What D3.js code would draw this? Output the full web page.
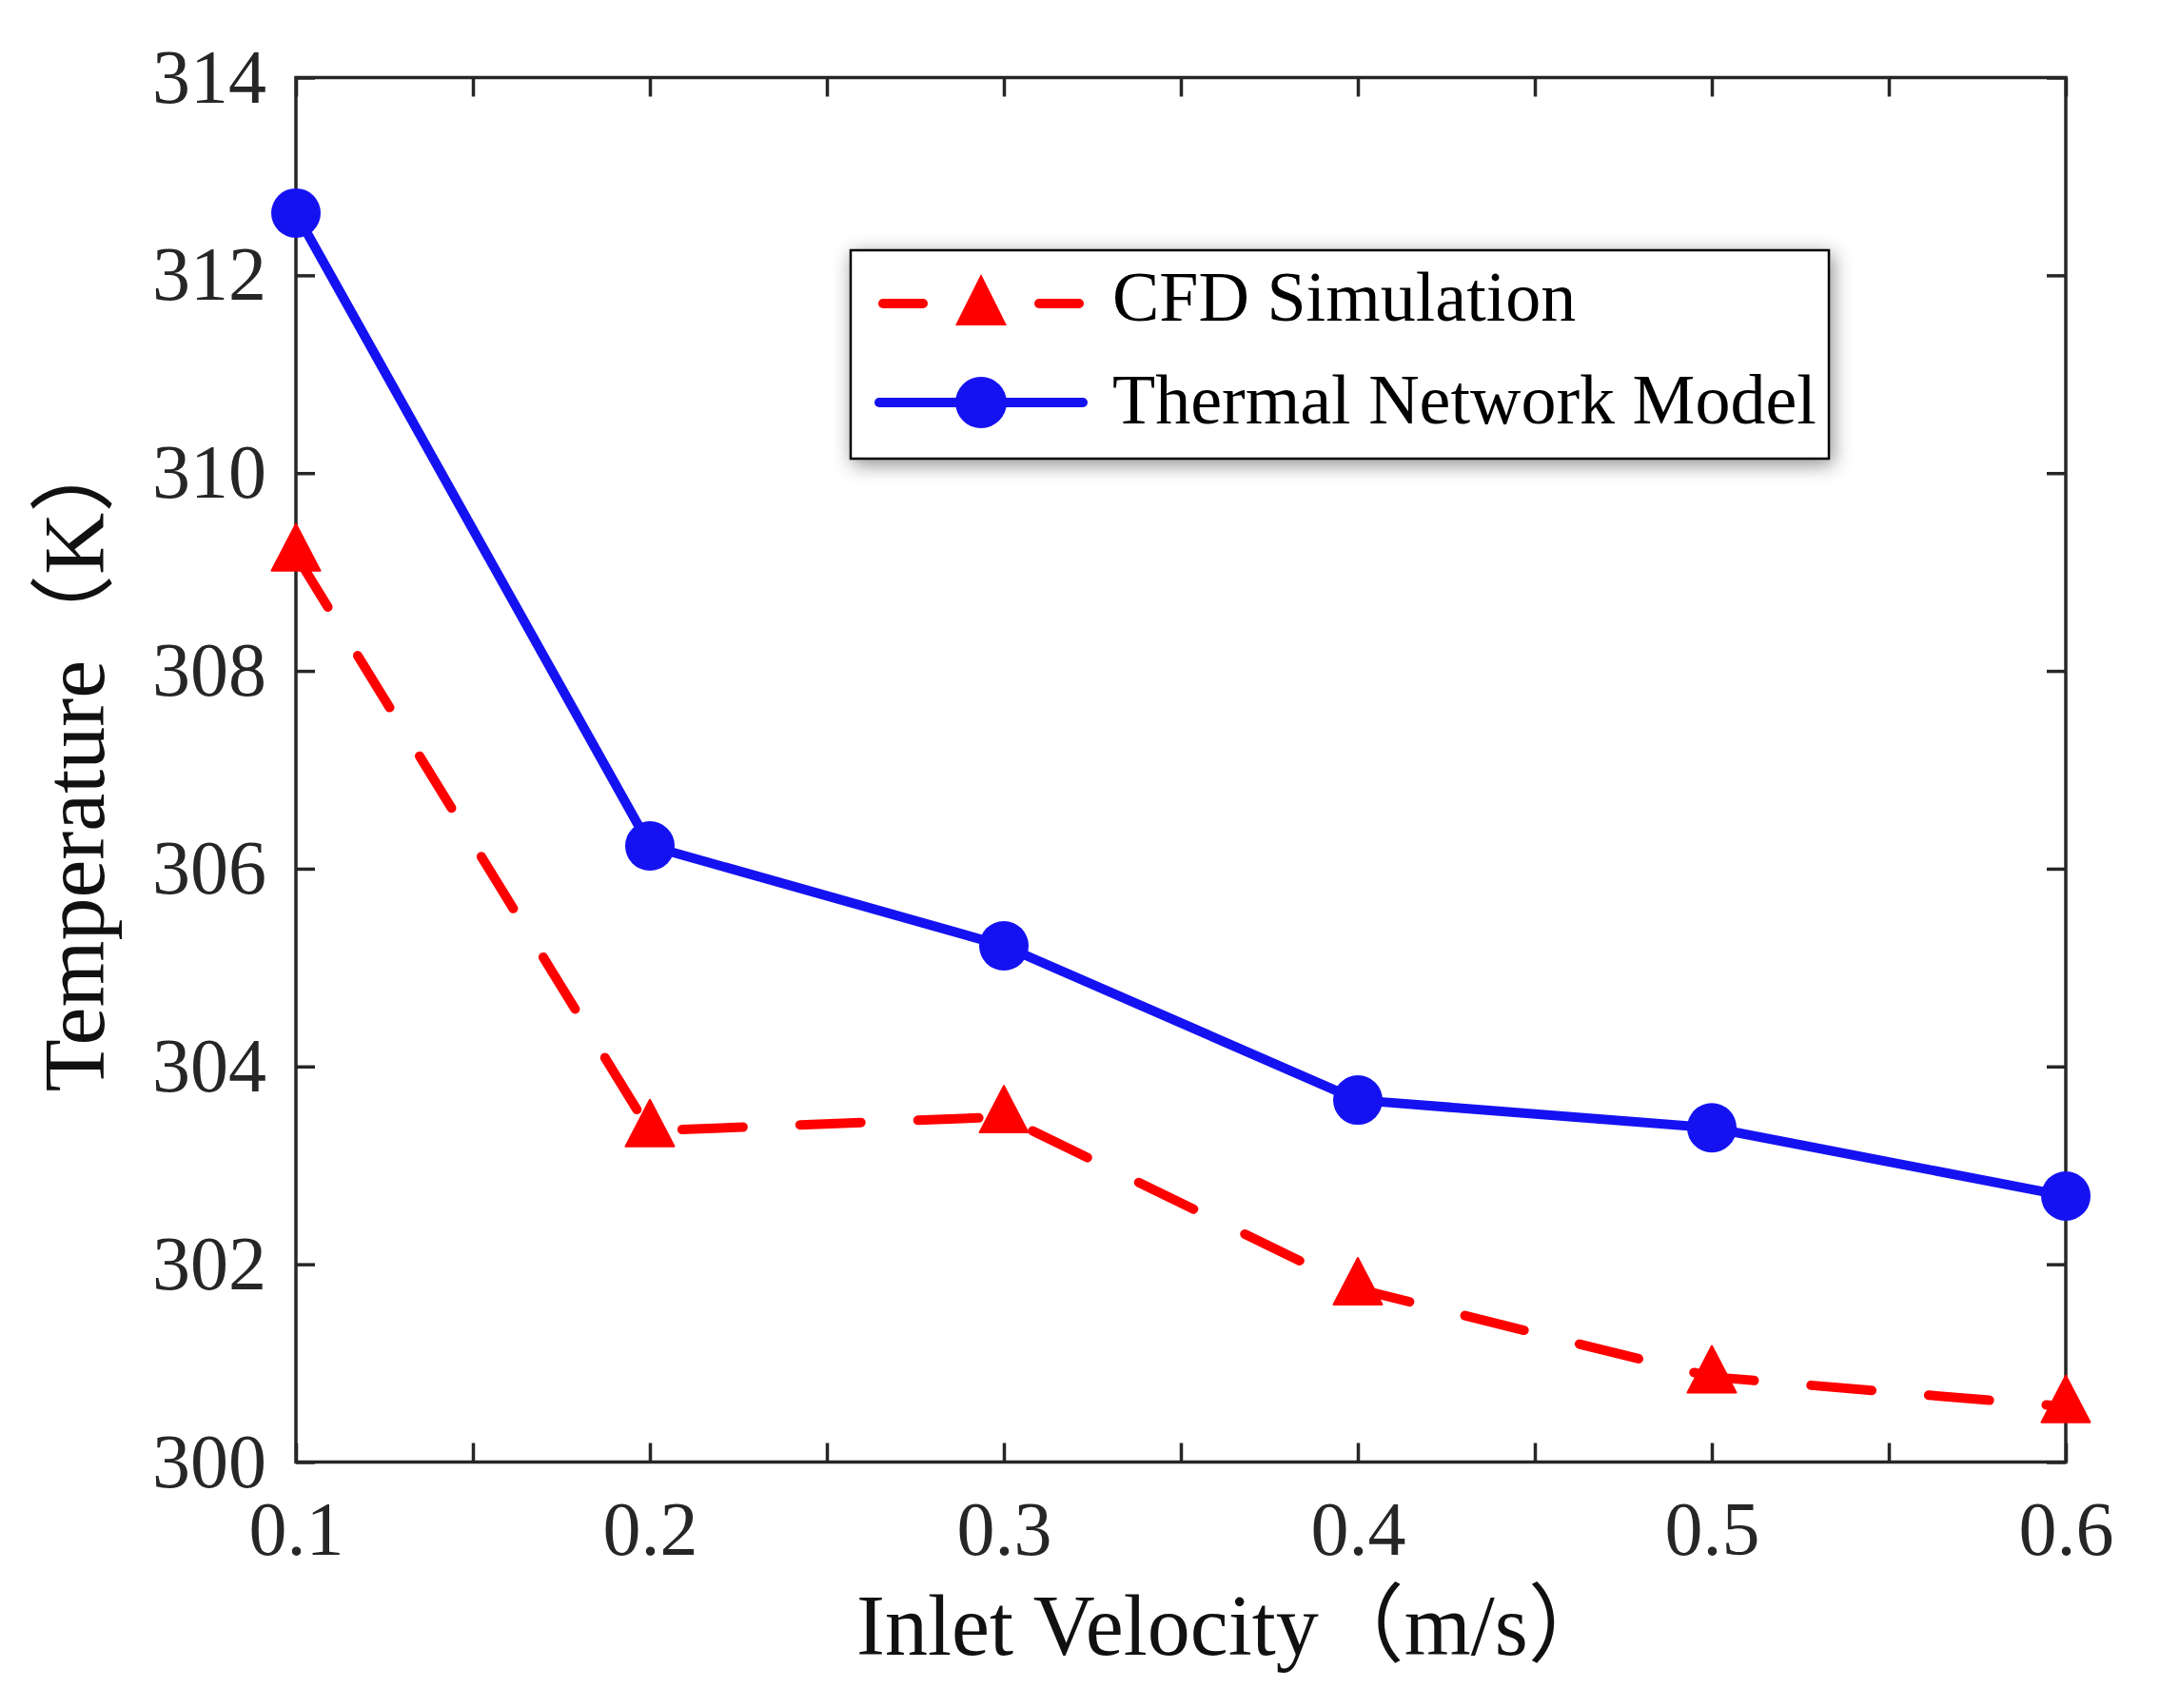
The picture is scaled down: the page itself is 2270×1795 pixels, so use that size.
<!DOCTYPE html>
<html>
<head>
<meta charset="utf-8">
<script src="https://cdn.jsdelivr.net/npm/d3@7"></script>
<style>body{margin:0;background:#fff;}</style>
</head>
<body>
<svg id="chart"></svg>
<script>
var velocity = [0.1, 0.2, 0.3, 0.4, 0.5, 0.6];
var cfdTemp = [309.17, 303.35, 303.49, 301.75, 300.86, 300.56];
var tnmTemp = [312.63, 306.23, 305.22, 303.66, 303.38, 302.69];
var xTicks = [0.1, 0.15, 0.2, 0.25, 0.3, 0.35, 0.4, 0.45, 0.5, 0.55, 0.6];
var xTickLabels = ['0.1', '', '0.2', '', '0.3', '', '0.4', '', '0.5', '', '0.6'];
var yTicks = [300, 302, 304, 306, 308, 310, 312, 314];
var seriesNames = ['CFD Simulation', 'Thermal Network Model'];

var W = 2270, H = 1795;
var L = 311, R = 2171, T = 81.5, B = 1536.5;
var font = "'Liberation Serif', 'Noto Sans CJK SC', serif";
var axisCol = '#262626';
var blue = '#1512f2', red = '#ff0000';

var svg = d3.select('#chart').attr('width', W).attr('height', H);

var defs = svg.append('defs');
var f = defs.append('filter').attr('id', 'shadow')
	.attr('x', '-10%').attr('y', '-30%').attr('width', '120%').attr('height', '160%');
f.append('feDropShadow').attr('dx', 3).attr('dy', 5).attr('stdDeviation', 10)
	.attr('flood-color', '#000').attr('flood-opacity', 0.45);

var x = d3.scaleLinear().domain([0.1, 0.6]).range([L, R]);
var y = d3.scaleLinear().domain([300, 314]).range([B, T]);

//axes, ticks point inward on all four sides
function styleAxis(g){
	g.select('.domain').remove();
	g.selectAll('.tick line').attr('stroke', axisCol).attr('stroke-width', 3.5);
	g.selectAll('.tick text').attr('fill', axisCol).attr('font-family', font).attr('font-size', 80);
}

svg.append('g').attr('transform', 'translate(0,' + B + ')')
	.call(d3.axisBottom(x).tickValues(xTicks).tickSize(-20).tickPadding(41)
		.tickFormat(function(d, i){ return xTickLabels[i]; }))
	.call(styleAxis);
svg.append('g').attr('transform', 'translate(0,' + T + ')')
	.call(d3.axisTop(x).tickValues(xTicks).tickSize(-20).tickFormat(''))
	.call(styleAxis);
svg.append('g').attr('transform', 'translate(' + L + ',0)')
	.call(d3.axisLeft(y).tickValues(yTicks).tickSize(-20).tickPadding(31).tickFormat(d3.format('d')))
	.call(styleAxis);
svg.append('g').attr('transform', 'translate(' + R + ',0)')
	.call(d3.axisRight(y).tickValues(yTicks).tickSize(-20).tickFormat(''))
	.call(styleAxis);

svg.append('rect').attr('x', L).attr('y', T).attr('width', R - L).attr('height', B - T)
	.attr('fill', 'none').attr('stroke', axisCol).attr('stroke-width', 3.5);

//axis labels
svg.append('text').attr('x', 900).attr('y', 1739)
	.attr('font-family', font).attr('font-size', 90).attr('fill', '#111')
	.text('Inlet Velocity（m/s）');
svg.append('text').attr('transform', 'translate(109,798) rotate(-90)')
	.attr('text-anchor', 'middle')
	.attr('font-family', font).attr('font-size', 90).attr('fill', '#111')
	.text('Temperature（K）');

//series
var line = d3.line();
var cfdPts = velocity.map(function(v, i){ return [x(v), y(cfdTemp[i])]; });
var tnmPts = velocity.map(function(v, i){ return [x(v), y(tnmTemp[i])]; });

var triW = 51, triH = 49;
function triPath(cx, cy, w, h){
	return 'M' + cx + ',' + (cy - 2 * h / 3) + 'L' + (cx + w / 2) + ',' + (cy + h / 3) +
		'L' + (cx - w / 2) + ',' + (cy + h / 3) + 'Z';
}

svg.append('path').attr('d', line(cfdPts))
	.attr('fill', 'none').attr('stroke', red).attr('stroke-width', 10)
	.attr('stroke-dasharray', '64,60').attr('stroke-linecap', 'round').attr('stroke-linejoin', 'round');
svg.append('path').attr('d', line(tnmPts))
	.attr('fill', 'none').attr('stroke', blue).attr('stroke-width', 10).attr('stroke-linejoin', 'round');

svg.selectAll('.tri').data(cfdPts).enter().append('path').attr('class', 'tri')
	.attr('d', function(p){ return triPath(p[0], p[1], triW, triH); })
	.attr('fill', red).attr('stroke', red).attr('stroke-width', 2).attr('stroke-linejoin', 'round');
svg.selectAll('.dot').data(tnmPts).enter().append('circle').attr('class', 'dot')
	.attr('cx', function(p){ return p[0]; }).attr('cy', function(p){ return p[1]; })
	.attr('r', 26).attr('fill', blue);

//legend
var lg = svg.append('g');
lg.append('rect').attr('x', 894).attr('y', 263).attr('width', 1028).attr('height', 219)
	.attr('fill', '#fff').attr('stroke', '#000').attr('stroke-width', 2.5)
	.attr('filter', 'url(#shadow)');

var row1 = 319, row2 = 423, mx = 1031;
[[928, 970], [1092, 1134]].forEach(function(s){
	lg.append('path').attr('d', line([[s[0], row1], [s[1], row1]]))
		.attr('stroke', red).attr('stroke-width', 10).attr('stroke-linecap', 'round');
});
lg.append('path').attr('d', triPath(mx, row1 + 5, 54, 54)).attr('fill', red);
lg.append('path').attr('d', line([[924, row2], [1138, row2]]))
	.attr('stroke', blue).attr('stroke-width', 10).attr('stroke-linecap', 'round');
lg.append('circle').attr('cx', mx).attr('cy', row2).attr('r', 27).attr('fill', blue);

lg.selectAll('.lt').data(seriesNames).enter().append('text').attr('class', 'lt')
	.attr('x', 1169).attr('y', function(d, i){ return [337, 445][i]; })
	.attr('font-family', font).attr('font-size', 74).attr('fill', '#000')
	.text(function(d){ return d; });
</script>
</body>
</html>
